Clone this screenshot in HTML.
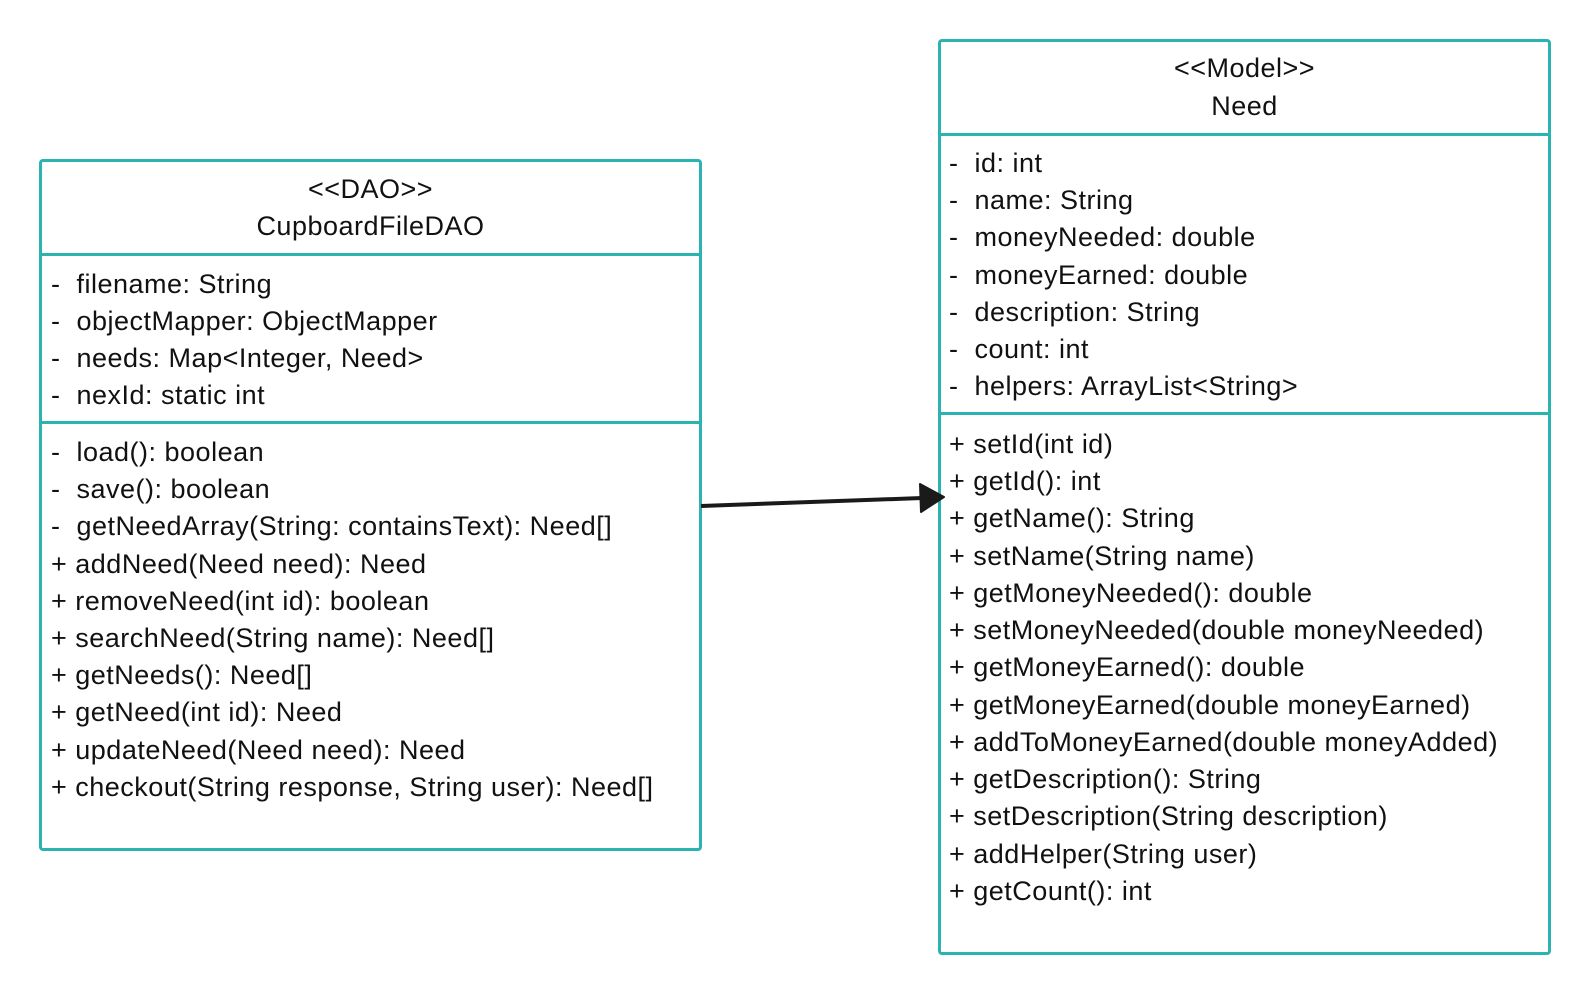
<!DOCTYPE html>
<html><head><meta charset="utf-8"><style>
html,body{margin:0;padding:0;background:#fff;}
body{width:1590px;height:991px;position:relative;overflow:hidden;font-family:"Liberation Sans","DejaVu Sans",sans-serif;color:#111;}
.box{position:absolute;border:3px solid #2ab3b1;border-radius:4px;box-sizing:border-box;}
.hr{position:absolute;height:3px;background:#2ab3b1;}
.t{position:absolute;font-size:27px;line-height:30px;letter-spacing:0.5px;white-space:pre;transform:translateY(-16px);}
.c{text-align:center;}
</style></head><body>
<div class="box" style="left:39px;top:159px;width:663px;height:692px"></div>
<div class="hr" style="left:39px;top:253px;width:663px"></div>
<div class="hr" style="left:39px;top:421px;width:663px"></div>
<div class="t c" style="left:39px;width:663px;top:190px">&lt;&lt;DAO&gt;&gt;</div>
<div class="t c" style="left:39px;width:663px;top:227px">CupboardFileDAO</div>
<div class="t" style="left:51px;top:285px">-  filename: String</div>
<div class="t" style="left:51px;top:322px">-  objectMapper: ObjectMapper</div>
<div class="t" style="left:51px;top:359px">-  needs: Map&lt;Integer, Need&gt;</div>
<div class="t" style="left:51px;top:396px">-  nexId: static int</div>
<div class="t" style="left:51px;top:453px">-  load(): boolean</div>
<div class="t" style="left:51px;top:490px">-  save(): boolean</div>
<div class="t" style="left:51px;top:527px">-  getNeedArray(String: containsText): Need[]</div>
<div class="t" style="left:51px;top:565px">+ addNeed(Need need): Need</div>
<div class="t" style="left:51px;top:602px">+ removeNeed(int id): boolean</div>
<div class="t" style="left:51px;top:639px">+ searchNeed(String name): Need[]</div>
<div class="t" style="left:51px;top:676px">+ getNeeds(): Need[]</div>
<div class="t" style="left:51px;top:713px">+ getNeed(int id): Need</div>
<div class="t" style="left:51px;top:751px">+ updateNeed(Need need): Need</div>
<div class="t" style="left:51px;top:788px">+ checkout(String response, String user): Need[]</div>

<div class="box" style="left:938px;top:39px;width:613px;height:916px"></div>
<div class="hr" style="left:938px;top:133px;width:613px"></div>
<div class="hr" style="left:938px;top:412px;width:613px"></div>
<div class="t c" style="left:938px;width:613px;top:69px">&lt;&lt;Model&gt;&gt;</div>
<div class="t c" style="left:938px;width:613px;top:107px">Need</div>
<div class="t" style="left:949px;top:164px">-  id: int</div>
<div class="t" style="left:949px;top:201px">-  name: String</div>
<div class="t" style="left:949px;top:238px">-  moneyNeeded: double</div>
<div class="t" style="left:949px;top:276px">-  moneyEarned: double</div>
<div class="t" style="left:949px;top:313px">-  description: String</div>
<div class="t" style="left:949px;top:350px">-  count: int</div>
<div class="t" style="left:949px;top:387px">-  helpers: ArrayList&lt;String&gt;</div>
<div class="t" style="left:949px;top:445px">+ setId(int id)</div>
<div class="t" style="left:949px;top:482px">+ getId(): int</div>
<div class="t" style="left:949px;top:519px">+ getName(): String</div>
<div class="t" style="left:949px;top:557px">+ setName(String name)</div>
<div class="t" style="left:949px;top:594px">+ getMoneyNeeded(): double</div>
<div class="t" style="left:949px;top:631px">+ setMoneyNeeded(double moneyNeeded)</div>
<div class="t" style="left:949px;top:668px">+ getMoneyEarned(): double</div>
<div class="t" style="left:949px;top:706px">+ getMoneyEarned(double moneyEarned)</div>
<div class="t" style="left:949px;top:743px">+ addToMoneyEarned(double moneyAdded)</div>
<div class="t" style="left:949px;top:780px">+ getDescription(): String</div>
<div class="t" style="left:949px;top:817px">+ setDescription(String description)</div>
<div class="t" style="left:949px;top:855px">+ addHelper(String user)</div>
<div class="t" style="left:949px;top:892px">+ getCount(): int</div>

<svg style="position:absolute;left:0;top:0" width="1590" height="991">
<line x1="701" y1="506" x2="922" y2="498" stroke="#1a1a1a" stroke-width="4"/>
<polygon points="920,484 944,497 921,512" fill="#1a1a1a" stroke="#1a1a1a" stroke-width="2" stroke-linejoin="round"/>
</svg>
</body></html>
